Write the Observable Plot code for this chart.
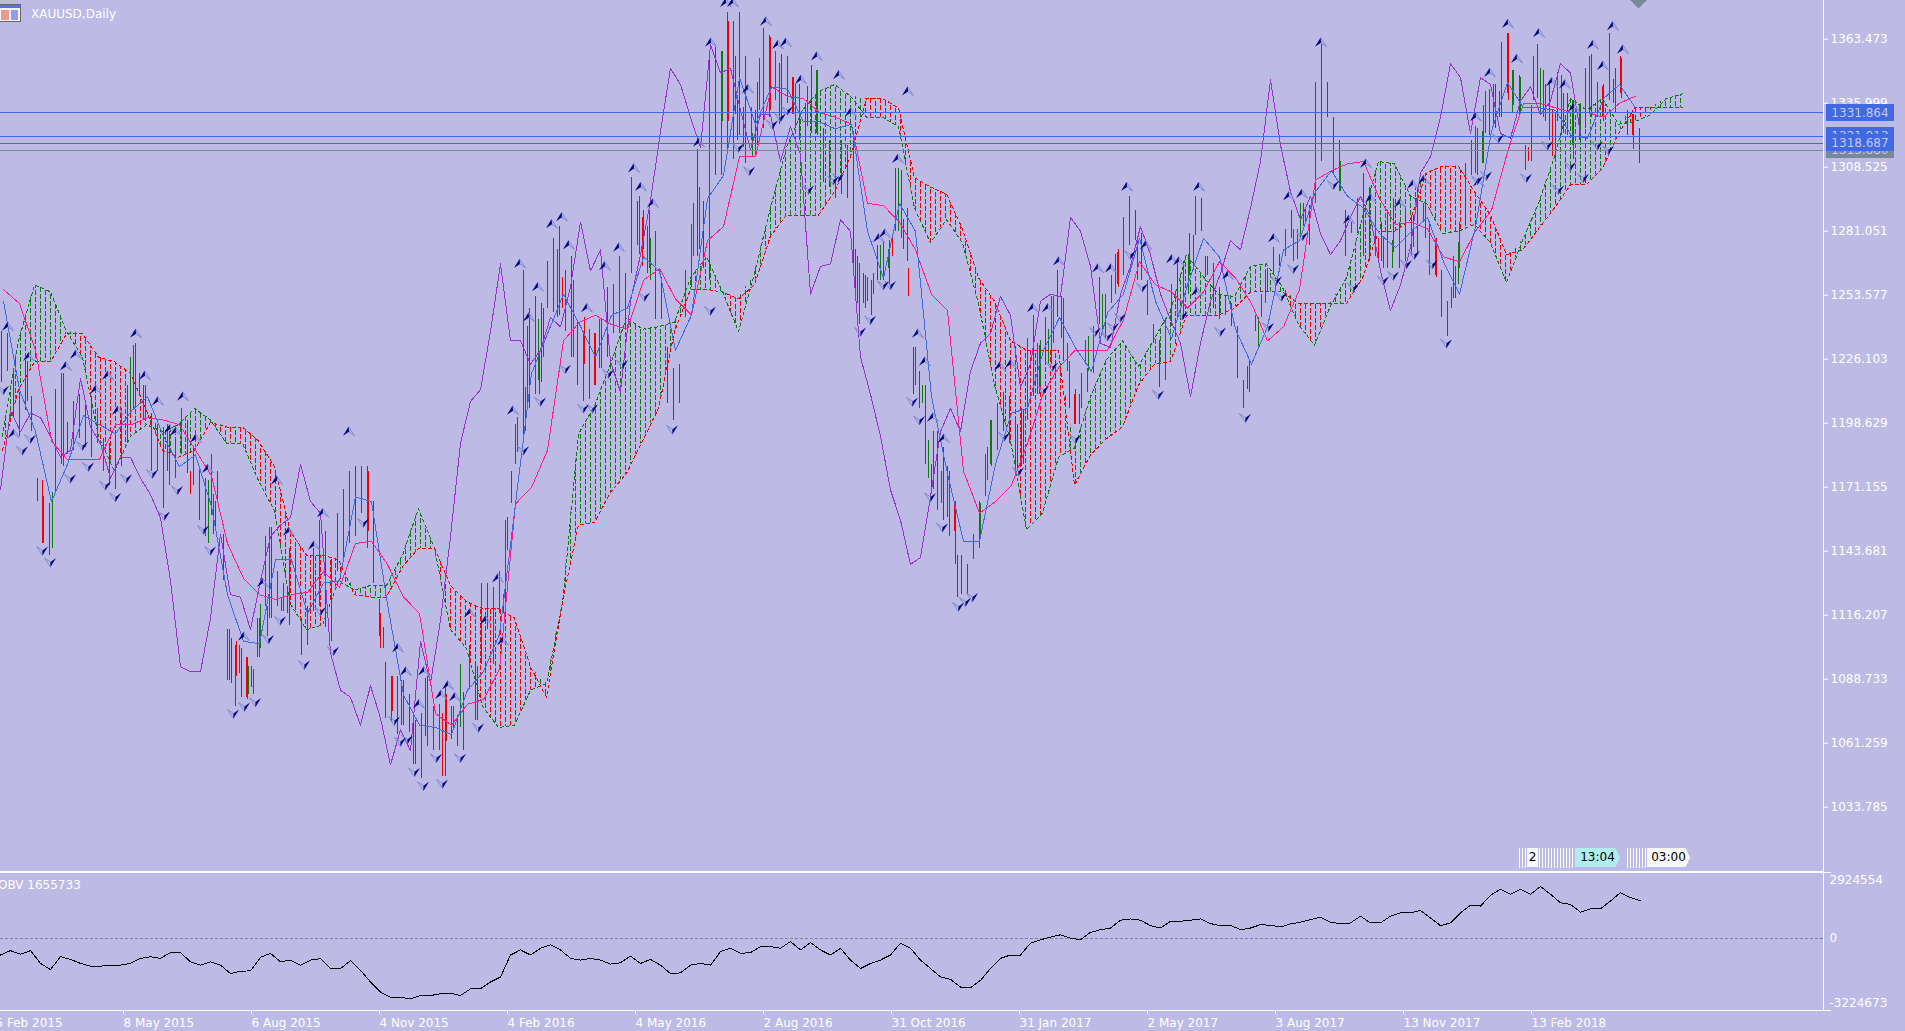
<!DOCTYPE html>
<html>
<head>
<meta charset="utf-8">
<script src="https://cdn.jsdelivr.net/npm/d3@7"></script>
<script src="https://cdn.jsdelivr.net/npm/@observablehq/plot@0.6"></script>
<style>
html,body{margin:0;padding:0;background:#bdbae5;overflow:hidden}
#page{position:relative;width:1905px;height:1031px;overflow:hidden;background:#bdbae5;font-family:"DejaVu Sans",sans-serif;font-size:12px;color:#fff}
#page svg{position:absolute;left:0;display:block;max-width:none}
.t{position:absolute;white-space:nowrap;line-height:14px}
.box{position:absolute;left:1826px;width:68px;text-align:center;color:#c8c6ee;line-height:14px;padding-top:2px;box-sizing:border-box}
.stripe{position:absolute;top:848px;height:20px;background:repeating-linear-gradient(90deg,#fff 0 1px,transparent 1px 3px)}
.tag{position:absolute;top:848px;height:19px;color:#000;line-height:19px;text-align:center}
</style>
</head>
<body>
<div id="page"></div>
<script>
// candles: [low, high, green?] one stick every third session
const sticks=[[1216,1238,0],[1221,1237,1],[1201,1221,0],[1193,1212,1],[1204,1224,0],[1195,1210,0],[1165,1175,0],[1147,1167,0],[1142,1164,0],[1169,1213,1],
[1181,1220,1],[1185,1199,0],[1187,1208,1],[1192,1211,0],[1188,1208,0],[1184,1210,0],[1190,1205,1],[1178,1192,1],[1172,1190,0],[1170,1195,0],
[1180,1205,1],[1190,1215,0],[1205,1232,1],[1210,1220,1],[1200,1215,1],[1178,1203,0],[1178,1198,1],[1162,1197,0],[1172,1195,1],[1175,1192,1],
[1185,1205,1],[1177,1200,0],[1172,1188,0],[1157,1180,0],[1150,1175,1],[1159,1185,1],[1165,1178,0],[1131,1151,0],[1088,1110,1],[1077,1103,1],
[1081,1102,0],[1080,1098,0],[1082,1093,1],[1098,1115,1],[1120,1150,1],[1115,1154,0],[1120,1135,1],[1118,1130,0],[1112,1145,0],[1120,1145,1],
[1099,1115,0],[1103,1120,1],[1118,1145,0],[1120,1157,1],[1111,1152,0],[1105,1140,1],[1135,1160,0],[1140,1170,1],[1147,1178,1],[1150,1180,0],
[1160,1180,1],[1145,1180,0],[1130,1165,0],[1107,1123,0],[1072,1096,0],[1070,1090,0],[1065,1090,0],[1069,1088,0],[1066,1082,0],[1052,1071,0],
[1046,1074,1],[1060,1090,1],[1058,1077,1],[1058,1078,1],[1047,1085,0],[1063,1077,1],[1060,1073,0],[1058,1083,1],[1085,1103,1],[1071,1094,0],
[1095,1130,1],[1110,1130,0],[1095,1128,1],[1117,1135,1],[1117,1157,1],[1164,1178,1],[1186,1201,1],[1197,1264,1],[1205,1248,0],[1211,1253,1],
[1216,1250,0],[1248,1268,1],[1246,1278,0],[1245,1283,0],[1238,1264,1],[1227,1270,0],[1215,1242,0],[1208,1238,1],[1209,1239,0],[1215,1237,0],
[1222,1243,1],[1227,1257,0],[1237,1258,1],[1237,1270,1],[1240,1263,0],[1263,1304,1],[1275,1294,0],[1273,1290,0],[1265,1290,0],[1243,1265,0],
[1243,1261,0],[1207,1231,0],[1200,1222,0],[1207,1224,1],[1244,1264,1],[1257,1284,1],[1270,1316,0],[1265,1294,0],[1260,1358,1],[1305,1360,0],
[1305,1358,1],[1316,1375,1],[1312,1371,0],[1322,1375,0],[1320,1356,0],[1320,1334,1],[1318,1345,0],[1325,1368,1],[1330,1365,0],[1337,1358,1],
[1330,1357,0],[1338,1356,1],[1331,1347,0],[1320,1344,1],[1312,1336,1],[1323,1352,0],[1322,1350,1],[1302,1325,0],[1300,1320,1],[1295,1322,1],
[1297,1320,1],[1295,1318,0],[1267,1324,0],[1241,1267,1],[1248,1262,0],[1245,1260,0],[1260,1275,0],[1260,1276,1],[1258,1277,0],[1281,1308,1],
[1278,1307,0],[1268,1291,1],[1211,1231,0],[1205,1221,0],[1181,1215,0],[1170,1181,0],[1161,1195,0],[1157,1188,0],[1150,1178,1],[1138,1165,0],
[1125,1142,0],[1125,1138,0],[1140,1151,1],[1145,1165,1],[1167,1185,1],[1180,1200,1],[1187,1207,1],[1195,1212,1],[1190,1210,1],[1176,1200,0],
[1180,1205,0],[1200,1235,1],[1210,1245,1],[1211,1232,1],[1225,1244,0],[1224,1253,1],[1244,1264,0],[1226,1252,1],[1205,1225,0],[1198,1213,0],
[1205,1220,0],[1212,1222,1],[1220,1240,1],[1241,1261,0],[1240,1254,1],[1250,1262,1],[1258,1272,0],[1262,1287,1],[1275,1296,0],[1277,1290,0],
[1260,1280,0],[1245,1260,1],[1233,1241,0],[1214,1234,0],[1217,1240,1],[1240,1258,1],[1248,1264,0],[1243,1268,1],[1262,1280,0],[1279,1296,1],
[1281,1295,0],[1262,1270,0],[1255,1267,1],[1243,1257,0],[1245,1253,1],[1240,1250,0],[1218,1240,0],[1205,1217,1],[1212,1222,1],[1238,1245,0],
[1244,1254,1],[1255,1265,1],[1263,1274,0],[1266,1271,0],[1270,1282,1],[1278,1290,0],[1269,1282,1],[1283,1293,0],[1275,1292,1],[1293,1345,1],
[1311,1361,1],[1330,1345,0],[1305,1330,0],[1298,1320,1],[1270,1290,0],[1280,1285,1],[1285,1295,1],[1270,1305,0],[1268,1300,0],[1270,1290,1],
[1268,1285,0],[1265,1290,1],[1272,1295,1],[1265,1285,0],[1268,1290,0],[1270,1288,1],[1272,1300,0],[1285,1293,1],[1262,1285,1],[1262,1278,0],
[1244,1264,0],[1236,1251,1],[1252,1270,1],[1265,1285,1],[1283,1310,0],[1305,1320,1],[1305,1325,1],[1310,1335,1],[1322,1342,1],[1325,1344,0],
[1330,1362,1],[1340,1366,0],[1335,1350,1],[1330,1348,0],[1307,1318,1],[1311,1335,0],[1338,1361,0],[1330,1350,1],[1320,1344,0],[1312,1332,0],
[1322,1348,1],[1322,1340,0],[1312,1337,1],[1320,1335,1],[1325,1351,1],[1330,1357,0],[1330,1345,1],[1328,1344,0],[1337,1366,1],[1332,1351,1],
[1338,1355,0],[1322,1333,0],[1322,1331,0],[1310,1325,0]];

// further candles between those: [session, low, high, green?]
const moreSticks=[[16,1208,1225,0],[23.5,1147,1174,0],[28.5,1145,1169,1],[30,1187,1213,0],[34,1180,1220,1],[67.5,1204,1227,1],[70,1205,1233,1],[74,1200,1215,1],[86,1178,1198,1],[106.5,1147,1174,1],[109,1151,1168,1],
[97.5,1168,1178,0],[110,1152,1165,0],[116,1088,1110,1],[118,1087,1106,0],[120.5,1090,1105,0],[122,1091,1103,1],[125.5,1081,1098,0],[126.5,1082,1094,1],[128,1085,1094,0],[131,1098,1115,1],[132.5,1102,1121,1],[136,1107,1120,1],[137,1115,1154,1],[143,1118,1124,0],[146,1117,1128,0],
[186.5,1152,1178,0],[192.5,1102,1117,0],[194,1102,1111,0],[198.5,1075,1090,0],[201,1075,1087,0],[203,1069,1088,0],[209,1052,1071,0],[215,1064,1089,0],[223.5,1047,1074,0],[225.5,1062,1082,0],[229,1067,1077,1],[232.5,1068,1095,1],[241,1071,1094,0],[254,1117,1125,1],
[256,1144,1158,1],[260,1181,1198,1],[264,1191,1220,0],[265,1195,1214,1],[266,1205,1240,1],[271.5,1217,1243,1],[272,1211,1228,0],[274,1227,1248,0],[279,1253,1278,0],[281,1244,1273,1],[283.5,1248,1261,0],[285,1238,1264,1],[289,1227,1260,1],[294.5,1224,1244,0],[299.5,1215,1237,0],[302,1222,1243,1],[309,1237,1258,1],
[322,1271,1296,1],[323.5,1266,1287,0],[326,1263,1283,1],[327.5,1260,1278,1],[330,1266,1281,1],[349,1270,1293,1],[352,1273,1300,1],[363.5,1328,1358,1],[366.5,1328,1371,0],[370,1331,1356,0],[371,1320,1337,0],[374,1317,1334,1],[375,1310,1323,0],[378.5,1313,1323,1],[380,1313,1333,0],[382,1333,1355,1],[387.5,1333,1364,0],[392,1327,1353,0],[396,1336,1356,1],[398.5,1331,1347,0],[400,1326,1344,1],[406,1326,1343,1],[410.5,1323,1350,1],
[430,1253,1273,0],[431,1250,1270,0],[434,1250,1263,0],[436,1251,1261,1],[439,1254,1263,1],[442.5,1260,1275,1],[446.5,1265,1273,1],[448.5,1270,1279,0],[451.5,1281,1308,1],[454,1273,1286,0],[456.5,1253,1265,0],[460,1215,1231,1],[463.5,1207,1215,1],[466.5,1175,1191,1],[469,1170,1195,1],[473,1164,1178,1],[476,1158,1180,1],[479.5,1152,1165,0],[481,1124,1142,0],[486,1125,1138,0],[492.5,1151,1164,1],[496,1174,1188,1],[497.5,1181,1200,1],[504,1195,1212,1],[511,1178,1198,0],[514,1181,1204,0],[521,1211,1233,1],[522.5,1215,1234,1],[526.5,1224,1239,1],[529,1233,1253,1],[533,1235,1253,1],[534,1225,1247,0],[536,1221,1233,1],[539.5,1198,1211,0],[542,1198,1211,0],[545,1224,1234,1],[546.5,1221,1236,1],[549,1224,1240,1],[553.5,1238,1254,1],[555,1235,1250,0],[560,1254,1271,1],[561.5,1257,1273,0],[567,1276,1291,0],
[571,1260,1277,0],[591,1243,1268,1],[594,1248,1265,0],[596.5,1254,1271,1],[599,1264,1279,1],[605,1261,1270,0],[609,1248,1263,0],[626,1213,1223,1],[627,1215,1225,0],[631.5,1231,1244,1],[635,1250,1264,1],[649,1268,1282,1],[652.5,1278,1293,1],[655,1284,1291,0],[672.5,1298,1311,1],[681,1280,1294,1],[684,1293,1306,0],[691.5,1268,1278,0],[694,1265,1278,0],[698.5,1265,1277,1],[709,1274,1288,0],[715,1278,1294,1],[720.5,1261,1278,0],[728,1248,1257,1],[730,1252,1266,1],[731.5,1258,1276,1],
[740,1306,1326,1],[741,1310,1321,0],[743.5,1310,1324,1],[745,1323,1341,1],[749,1327,1344,0],[752,1330,1341,0],[756.5,1345,1366,0],[756.5,1337,1358,0],[758.5,1332,1350,1],[762.5,1331,1347,1],[766.5,1311,1317,0],[769,1337,1356,1],[772.5,1331,1351,1],[775,1328,1344,0],[778.5,1313,1333,0],[781,1328,1349,1],[784,1323,1340,0],[788.5,1318,1337,1],[792.5,1320,1336,1],[797,1331,1356,1],[803.5,1330,1343,0],[809,1336,1346,0],[812.5,1340,1356,0],[818.5,1322,1331,0],[819,1316,1327,1]];

// Tenkan-sen, one reading every 8 sessions
const tenkan=[1251,1213,1195,1165,1181,1202,1198,1194,1204,1210,1193,1180,1185,1163,1125,1105,1104,1140,1140,1117,
1130,1131,1167,1165,1121,1082,1069,1068,1065,1084,1092,1108,1164,1220,1237,1254,1241,1227,1245,1248,
1270,1264,1230,1245,1295,1305,1347,1327,1343,1342,1328,1328,1325,1327,1281,1261,1293,1281,1210,1177,
1148,1148,1181,1203,1205,1230,1244,1231,1221,1246,1254,1278,1251,1235,1258,1278,1270,1239,1224,1240,
1273,1277,1298,1307,1296,1291,1280,1274,1281,1287,1268,1254,1283,1324,1345,1334,1334,1333,1322,1321,
1338,1344,1334];

// Kijun-sen, one reading every 8 sessions
const kijun=[1256,1250,1230,1191,1183,1183,1183,1198,1198,1201,1200,1198,1187,1176,1147,1132,1125,1123,1125,1126,
1135,1128,1147,1148,1138,1124,1117,1074,1069,1078,1080,1093,1164,1171,1187,1234,1242,1245,1241,1239,
1260,1265,1252,1245,1277,1283,1313,1313,1343,1339,1338,1332,1330,1327,1293,1292,1285,1273,1254,1247,
1178,1160,1165,1172,1190,1212,1223,1230,1230,1230,1243,1268,1258,1255,1248,1255,1268,1261,1250,1234,
1240,1256,1303,1307,1310,1311,1295,1284,1285,1282,1270,1268,1281,1290,1315,1336,1336,1334,1332,1332,
1330,1336,1339];

// Chikou span, one reading every 5 sessions
const chikou=[1170,1204,1195,1203,1201,1193,1184,1187,1218,1197,1190,1175,1184,1184,1175,1168,1158,1131,1094,1092,
1092,1115,1151,1125,1124,1110,1131,1150,1155,1158,1181,1165,1160,1100,1084,1081,1069,1086,1072,1052,
1067,1058,1105,1087,1114,1150,1190,1208,1213,1238,1267,1234,1234,1224,1230,1244,1240,1257,1285,1264,
1273,1225,1212,1251,1271,1294,1324,1351,1344,1330,1317,1361,1349,1351,1333,1316,1331,1331,1311,1326,
1314,1254,1266,1267,1286,1281,1227,1211,1193,1170,1157,1138,1141,1167,1195,1205,1195,1221,1233,1237,
1253,1245,1214,1224,1251,1254,1253,1287,1281,1266,1233,1231,1254,1266,1283,1271,1254,1243,1233,1210,
1233,1251,1263,1277,1273,1291,1311,1346,1318,1298,1286,1296,1280,1271,1277,1287,1296,1287,1264,1247,
1258,1274,1306,1313,1330,1353,1347,1323,1347,1344,1323,1321,1337,1343,1331,1337,1353,1349,1323];

// Senkou span A and B, one reading every 8 sessions
const spanA=[1193,1234,1258,1255,1238,1227,1193,1178,1193,1198,1195,1198,1205,1200,1190,1190,1174,1161,1121,1110,
1112,1131,1127,1129,1129,1142,1162,1145,1110,1102,1077,1068,1069,1084,1087,1121,1194,1206,1224,1244,
1239,1240,1242,1261,1270,1255,1238,1263,1291,1317,1333,1341,1344,1339,1330,1330,1326,1291,1276,1286,
1276,1250,1215,1191,1153,1160,1184,1188,1210,1226,1234,1223,1235,1247,1271,1262,1254,1253,1266,1267,
1257,1241,1232,1249,1261,1287,1311,1310,1296,1293,1280,1281,1284,1276,1259,1277,1293,1313,1338,1333,
1338,1327,1328,1331,1338,1340];
const spanB=[1187,1213,1225,1225,1237,1237,1227,1225,1220,1204,1187,1184,1187,1199,1197,1197,1191,1180,1152,1142,
1142,1140,1125,1124,1124,1137,1145,1145,1129,1122,1119,1119,1115,1094,1081,1122,1155,1156,1169,1177,
1191,1205,1238,1256,1256,1255,1252,1258,1279,1288,1288,1288,1298,1313,1338,1338,1334,1304,1300,1297,
1282,1261,1251,1234,1230,1230,1230,1172,1185,1192,1197,1215,1224,1225,1245,1245,1245,1248,1255,1255,
1255,1250,1250,1250,1250,1261,1281,1281,1286,1306,1309,1309,1298,1288,1271,1273,1282,1291,1301,1301,
1308,1323,1334,1334,1334,1334];

// OBV in thousands, one reading every 5 sessions
const obv=[-752,-556,-722,-556,-1128,-1399,-827,-948,-1128,-1248,-1248,-1203,-1203,-1128,-902,-827,-902,-647,-647,-1053,
-1203,-1053,-1203,-1579,-1474,-1459,-857,-677,-1053,-978,-1203,-978,-917,-1354,-1354,-1008,-1429,-1955,-2406,-2632,
-2632,-2707,-2557,-2557,-2482,-2452,-2557,-2256,-2256,-1955,-1730,-752,-526,-752,-451,-301,-526,-902,-978,-902,
-978,-1158,-1098,-797,-1128,-948,-1203,-1579,-1549,-1203,-1128,-1203,-602,-451,-677,-647,-376,-376,-451,-150,
-526,-196,-526,-752,-451,-978,-1353,-1128,-978,-752,-226,-451,-978,-1353,-1730,-1835,-2181,-2211,-1880,-1353,
-902,-752,-752,-226,-75,45,150,0,-75,256,376,451,797,857,797,556,451,752,752,797,
857,647,556,571,376,451,601,571,496,631,707,827,932,707,647,677,977,677,677,977,
1128,1128,1233,902,556,677,1128,1459,1429,1910,2181,1955,2181,1955,2301,1955,1579,1504,1158,1308,
1308,1654,2030,1805,1656];

// fractals: [session, price]
const fractalUp=[[6,1240],[16.5,1227],[35,1223],[40,1228],[50,1213],[56,1219],[70,1237],[74.5,1219],[81,1208],[93.5,1210],[87,1196],[90,1195],[61,1204],[106,1179],[140.5,1174],[146.5,1152],[163.5,1160],[159,1146],[100,1192],[9,1194],[176.5,1195],[124,1107],[133.5,1130],[201,1102],[205,1092],[214,1092],[211.5,1078],[222.5,1082],[226,1086],[229.5,1081],[237,1117],[245,1114],[253.5,1105],[251,1132],[258.5,1204],[262,1267],[266.5,1244],[271,1257],[278,1284],[283,1287],[286.5,1275],[295.5,1248],[304.5,1266],[311.5,1274],[328.5,1293],[319,1308],[322.5,1300],[357.5,1362],[365,1379],[368.5,1379],[385,1371],[391,1361],[395,1362],[402.5,1346],[376,1342],[410.5,1356],[421.5,1348],[427.5,1332],[451,1312],[456,1341],[441.5,1278],[444.5,1280],[351.5,1319],[461,1237],[464.5,1225],[468.5,1201],[474,1192],[502,1223],[507.5,1224],[518.5,1248],[526,1248],[531.5,1268],[565.5,1300],[551,1265],[557.5,1265],[575,1275],[601.5,1300],[588,1269],[591.5,1268],[600.5,1255],[616,1262],[639,1278],[646.5,1296],[653,1297],[662.5,1362],[676.5,1286],[685,1310],[687.5,1295],[702,1293],[708.5,1301],[714,1303],[740,1330],[741.5,1302],[747,1349],[756,1370],[760.5,1355],[771.5,1366],[778,1345],[784.5,1344],[789,1334],[798.5,1361],[803.5,1352],[808.5,1369],[813.5,1359]];
const fractalDown=[[4,1213],[13.5,1187],[17.5,1192],[23.5,1144],[27.5,1139],[43.5,1189],[46.5,1180],[37.5,1175],[55,1172],[60,1167],[65.5,1175],[78.5,1177],[84.5,1159],[91,1170],[104,1153],[107.5,1144],[119,1074],[124.5,1077],[130,1079],[136.5,1106],[142.5,1114],[162.5,1118],[169,1101],[154.5,1095],[184,1156],[199.5,1071],[202.5,1062],[206,1063],[209.5,1049],[214,1043],[220.5,1055],[223.5,1044],[232.5,1055],[241.5,1068],[264,1187],[272.5,1208],[285,1222],[294,1205],[298.5,1205],[306.5,1220],[313.5,1224],[324.5,1253],[338.5,1196],[357.5,1247],[371.5,1317],[377,1307],[388.5,1327],[392.5,1330],[396,1333],[406.5,1299],[419,1303],[421.5,1304],[444,1258],[447.5,1258],[432.5,1238],[437.5,1243],[458.5,1208],[462,1200],[467.5,1167],[473.5,1154],[481.5,1120],[485,1122],[488.5,1124],[504.5,1193],[511.5,1178],[524,1213],[528.5,1223],[540,1192],[550,1238],[556,1236],[559,1240],[562.5,1244],[567.5,1271],[573.5,1257],[581.5,1211],[593.5,1245],[612.5,1238],[625,1201],[636.5,1240],[640.5,1260],[643,1253],[649,1265],[653.5,1279],[669,1301],[679,1257],[694,1260],[699,1262],[705.5,1267],[709.5,1271],[718.5,1267],[725.5,1233],[745.5,1305],[741,1303],[751.5,1321],[765.5,1304],[776,1318],[781.5,1299],[787.5,1309],[794,1304],[801,1318],[806.5,1316]];

const priceTicks=[1363.473,1335.999,1308.525,1281.051,1253.577,1226.103,1198.629,1171.155,1143.681,1116.207,1088.733,1061.259,1033.785];
const blueLevels=[1331.864,1321.913,1318.687];
const greyLevels=[1315.88];
const dateTickSessions=[0,64,128,192,256,320,384,448,512,576,640,704,768];
const dateTickLabels=["5 Feb 2015","8 May 2015","6 Aug 2015","4 Nov 2015","4 Feb 2016","4 May 2016","2 Aug 2016","31 Oct 2016","31 Jan 2017","2 May 2017","3 Aug 2017","13 Nov 2017","13 Feb 2018"];
const obvLabels=[{v:2924.554,t:"2924554",dy:8},{v:0,t:"0",dy:0},{v:-3224.673,t:"-3224673",dy:-7}];

const BG="#bdbae5",BLUE="#4169e1",PINK="#ff1e8c",PURPLE="#9932cc",GREEN="#0b7a0b",RED="#f00000",SLATE="#778899";
const X={domain:[2.5,914],range:[0,1823],axis:null};
const FONT={fontFamily:"DejaVu Sans",fontSize:"12px",background:"transparent",overflow:"hidden",position:"absolute"};
const crisp={shapeRendering:"crispEdges",clip:true};

const stickRows=sticks.map(([low,high,up],k)=>({bar:3*k+3,low,high,up}))
  .concat(moreSticks.map(([bar,low,high,up])=>({bar,low,high,up})));
const spanRows=spanA.map((a,i)=>({bar:3.5+8*i,a,b:spanB[i],top:Math.max(a,spanB[i])}));
const tenkanRows=tenkan.map((v,i)=>({bar:4+8*i,v}));
const kijunRows=kijun.map((v,i)=>({bar:4+8*i,v}));
const chikouRows=chikou.map((v,i)=>({bar:2.5+5*i,v}));
const obvRows=obv.map((v,i)=>({bar:2.5+5*i,v}));

const sym=pts=>({draw(c){c.moveTo(...pts[0]);pts.slice(1).forEach(p=>c.lineTo(...p));c.closePath();}});
const upDark=sym([[0,-5],[-5.5,4],[0.5,0]]),upPale=sym([[0,-5],[6,4],[0.5,0]]);
const dnPale=sym([[0,5],[-6,-4],[0,0]]),dnDark=sym([[0,5],[5.5,-4],[0,0]]);

const page=document.getElementById("page");
const hatch=(id,c)=>`<pattern id="${id}" patternUnits="userSpaceOnUse" width="10" height="7"><rect x="0" y="0" width="1" height="5" fill="${c}"/><rect x="5" y="3" width="1" height="4" fill="${c}"/><rect x="5" y="0" width="1" height="1" fill="${c}"/></pattern>`;
page.insertAdjacentHTML("beforeend",`<svg width="0" height="0" style="position:absolute"><defs>${hatch("hatchG",GREEN)}${hatch("hatchR",RED)}</defs></svg>`);

const main=Plot.plot({
  width:1905,height:872,marginLeft:0,marginRight:82,marginTop:0,marginBottom:0,
  style:{...FONT,top:"0px"},
  x:X,y:{domain:[1005.76,1380.09],axis:null},
  marks:[
    Plot.areaY(spanRows,{x:"bar",y1:"a",y2:"top",fill:"url(#hatchR)",clip:true}),
    Plot.areaY(spanRows,{x:"bar",y1:"b",y2:"top",fill:"url(#hatchG)",clip:true}),
    Plot.line(spanRows,{x:"bar",y:"a",stroke:GREEN,strokeWidth:1,strokeDasharray:"3,3",...crisp}),
    Plot.line(spanRows,{x:"bar",y:"b",stroke:RED,strokeWidth:1,strokeDasharray:"3,3",...crisp}),
    Plot.ruleX(stickRows.filter(d=>d.up),{x:"bar",y1:"low",y2:"high",stroke:GREEN,strokeWidth:1,...crisp}),
    Plot.ruleX(stickRows.filter(d=>!d.up),{x:"bar",y1:"low",y2:"high",stroke:RED,strokeWidth:1,...crisp}),
    Plot.line(chikouRows,{x:"bar",y:"v",stroke:PURPLE,strokeWidth:1,...crisp}),
    Plot.line(kijunRows,{x:"bar",y:"v",stroke:PINK,strokeWidth:1,...crisp}),
    Plot.line(tenkanRows,{x:"bar",y:"v",stroke:BLUE,strokeWidth:1,...crisp}),
    Plot.ruleY(blueLevels,{stroke:BLUE,strokeWidth:1,...crisp}),
    Plot.ruleY(greyLevels,{stroke:SLATE,strokeWidth:1,...crisp}),
    Plot.dot(fractalUp,{x:d=>d[0],y:d=>d[1],r:1,symbol:upPale,stroke:"#7f8ccf",fill:"none",strokeWidth:1,clip:true}),
    Plot.dot(fractalUp,{x:d=>d[0],y:d=>d[1],r:1,symbol:upDark,fill:"#000080",stroke:"none",clip:true}),
    Plot.dot(fractalDown,{x:d=>d[0],y:d=>d[1],r:1,symbol:dnPale,stroke:"#7f8ccf",fill:"none",strokeWidth:1,clip:true}),
    Plot.dot(fractalDown,{x:d=>d[0],y:d=>d[1],r:1,symbol:dnDark,fill:"#000080",stroke:"none",clip:true}),
    Plot.dot([[821.5,1380.5]],{x:d=>d[0],y:d=>d[1],r:8,symbol:"diamond2",fill:SLATE,stroke:"none",clip:true}),
    Plot.ruleY([1006.2],{stroke:"#fff",strokeWidth:1,x1:2.5,x2:914}),
    Plot.ruleX([914],{stroke:"#fff",strokeWidth:1}),
    Plot.axisY(priceTicks,{anchor:"right",label:null,tickSize:4,tickPadding:3,tickFormat:d=>d.toFixed(3),stroke:"#fff",fill:"#fff"})
  ]
});
page.appendChild(main);

const lower=Plot.plot({
  width:1905,height:159,marginLeft:0,marginRight:82,marginTop:0,marginBottom:21,
  style:{...FONT,top:"872px"},
  x:X,y:{domain:[-3224.673,2924.554],axis:null},
  marks:[
    Plot.ruleY([0],{stroke:SLATE,strokeWidth:1,strokeDasharray:"3,2",...crisp}),
    Plot.line(obvRows,{x:"bar",y:"v",stroke:"#000",strokeWidth:1,...crisp}),
    Plot.ruleY([2924.554,-3224.673],{stroke:"#fff",strokeWidth:1}),
    Plot.ruleX([914],{stroke:"#fff",strokeWidth:1}),
    Plot.ruleY([2924.554,-3224.673],{x1:914,x2:918,stroke:"#fff",strokeWidth:1}),
    ...obvLabels.map(d=>Plot.text([d],{x:()=>914,y:"v",text:"t",dx:6,dy:d.dy,textAnchor:"start",fill:"#fff"})),
    Plot.axisX(dateTickSessions,{anchor:"bottom",label:null,tickSize:4,tickPadding:4,textAnchor:"start",tickFormat:d=>dateTickLabels[dateTickSessions.indexOf(d)],stroke:"#fff",fill:"#fff"})
  ]
});
page.appendChild(lower);

page.insertAdjacentHTML("beforeend",`
<div style="position:absolute;left:0;top:4px;width:21px;height:18px;background:#f4f4f4;border:1px solid #666;box-sizing:border-box;border-left:none">
 <div style="position:absolute;left:0;top:0;width:20px;height:3px;background:#5a6fe0"></div>
 <div style="position:absolute;left:1px;top:5px;width:8px;height:10px;background:#e89a90"></div>
 <div style="position:absolute;left:11px;top:5px;width:7px;height:10px;background:#8f9cf0"></div>
</div>
<div class="t" style="left:31px;top:7px">XAUUSD,Daily</div>
<div class="t" style="left:-2px;top:878px">OBV 1655733</div>
<div class="box" style="top:127px;height:31px;background:${SLATE};padding-top:16px">1315.880</div>
<div class="box" style="top:127px;height:24px;background:${BLUE}">1321.913</div>
<div class="box" style="top:104px;height:17px;background:${BLUE}">1331.864</div>
<div class="box" style="top:134px;height:17px;background:${BLUE}">1318.687</div>
<div class="stripe" style="left:1519px;width:8px"></div>
<div class="tag" style="left:1527px;width:11px;background:#f7f7f7">2</div>
<div class="stripe" style="left:1539px;width:36px"></div>
<div class="tag" style="left:1575px;width:45px;background:#afeeee;clip-path:polygon(0 0,90% 0,100% 50%,90% 100%,0 100%)">13:04</div>
<div class="stripe" style="left:1627px;width:20px"></div>
<div class="tag" style="left:1647px;width:43px;background:#f7f7f7;clip-path:polygon(0 0,90% 0,100% 50%,90% 100%,0 100%)">03:00</div>
`);
</script>
</body>
</html>
